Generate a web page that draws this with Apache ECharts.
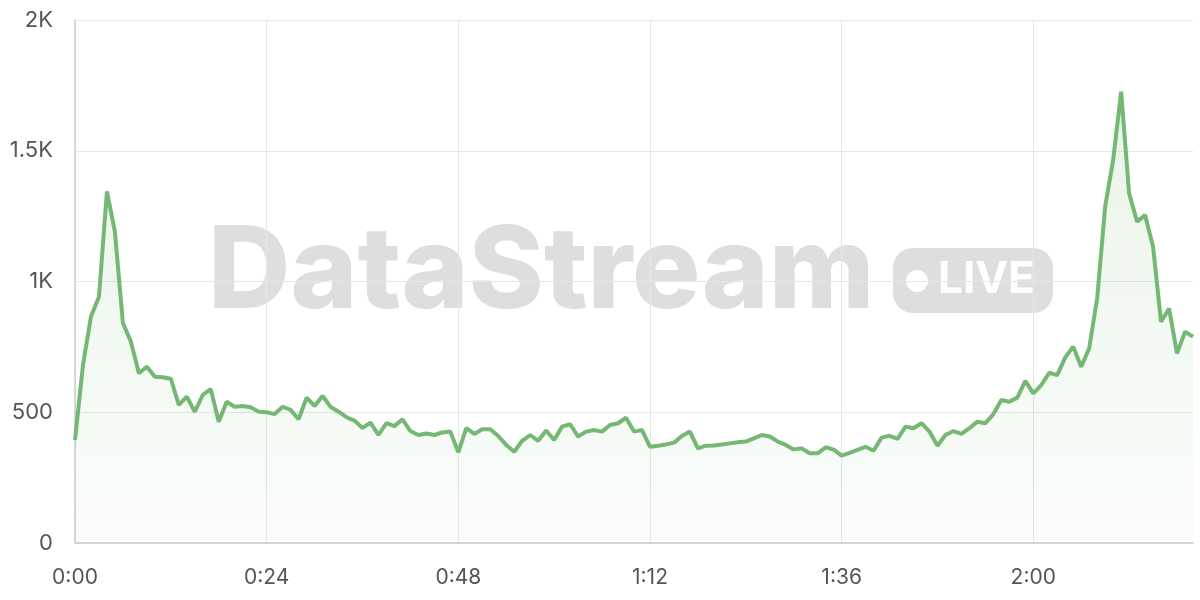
<!DOCTYPE html>
<html>
<head>
<meta charset="utf-8">
<script src="https://cdn.jsdelivr.net/npm/echarts@6/dist/echarts.min.js"></script>
<style>html,body{margin:0;padding:0;background:#fff;}#c{width:1200px;height:600px;}</style>
</head>
<body>
<div id="c"></div>
<script>
// minutes 0..140, one point per minute
const values = [
394, 681, 866, 942, 1345, 1190, 841, 770, 649, 674,
636, 634, 628, 528, 560, 502, 566, 588, 464, 540,
521, 524, 519, 502, 500, 493, 521, 509, 473, 556,
524, 562, 521, 502, 481, 468, 440, 460, 413, 458,
447, 473, 428, 413, 419, 413, 423, 426, 347, 439,
417, 435, 435, 409, 375, 349, 391, 413, 391, 430,
394, 445, 454, 407, 426, 432, 426, 451, 458, 479,
426, 432, 368, 372, 377, 384, 409, 426, 362, 372,
373, 377, 381, 385, 388, 400, 413, 407, 388, 375,
358, 362, 343, 343, 366, 357, 334, 345, 356, 368,
353, 403, 410, 398, 445, 439, 458, 426, 372, 413,
428, 417, 439, 464, 458, 493, 547, 540, 556, 620,
572, 604, 651, 642, 710, 751, 674, 745, 936, 1286,
1465, 1726, 1337, 1229, 1254, 1133, 846, 897, 725, 808,
789
];
const categories = values.map((_, i) => Math.floor(i / 60) + ':' + String(i % 60).padStart(2, '0'));
const yTicks = [0, 500, 1000, 1500, 2000];
const yTickLabels = ['0', '500', '1K', '1.5K', '2K'];
const watermarkText = 'DataStream';
const badgeText = 'LIVE';

const chart = echarts.init(document.getElementById('c'), null, {renderer: 'canvas'});
chart.setOption({
  animation: false,
  backgroundColor: '#ffffff',
  grid: {left: 75, right: 7, top: 20, bottom: 57, containLabel: false},
  graphic: [
    {type: 'text', left: 208, top: 217, z: -10, silent: true,
     style: {text: watermarkText, fontSize: 114, fontWeight: 800, fontFamily: 'Inter', fill: 'rgba(200,200,200,0.6)'}},
    {type: 'rect', left: 893, top: 248, z: -10, silent: true,
     shape: {width: 160, height: 65, r: 20}, style: {fill: 'rgba(200,200,200,0.6)'}},
    {type: 'circle', left: 906, top: 270, z: -9, silent: true,
     shape: {r: 11}, style: {fill: '#ffffff'}},
    {type: 'text', left: 938, top: 258, z: -9, silent: true,
     style: {text: badgeText, fontSize: 44, fontWeight: 'bold', fontFamily: 'Inter', fill: '#ffffff'}}
  ],
  xAxis: {
    type: 'category',
    data: categories,
    boundaryGap: false,
    axisLine: {show: true, lineStyle: {color: '#cccccc', width: 1.5}},
    axisTick: {show: false},
    axisLabel: {interval: 23, color: '#555555', fontSize: 21, fontFamily: 'Inter', margin: 24},
    splitLine: {show: true, interval: 23, lineStyle: {color: '#e6e6e6', width: 1}}
  },
  yAxis: {
    type: 'value',
    min: 0, max: 2000, interval: 500,
    axisLine: {show: true, lineStyle: {color: '#cccccc', width: 1.5}},
    axisTick: {show: false},
    axisLabel: {color: '#555555', fontSize: 22, fontFamily: 'Inter', margin: 22,
      formatter: v => yTickLabels[yTicks.indexOf(v)] ?? String(v)},
    splitLine: {show: true, lineStyle: {color: '#e6e6e6', width: 1}}
  },
  series: [{
    type: 'line',
    data: values,
    symbol: 'none',
    lineStyle: {color: '#74b874', width: 4},
    areaStyle: {color: new echarts.graphic.LinearGradient(0, 0, 0, 1, [
      {offset: 0, color: 'rgba(116,184,116,0.22)'},
      {offset: 1, color: 'rgba(116,184,116,0.05)'}
    ])},
    z: 5
  }]
});
</script>
</body>
</html>
